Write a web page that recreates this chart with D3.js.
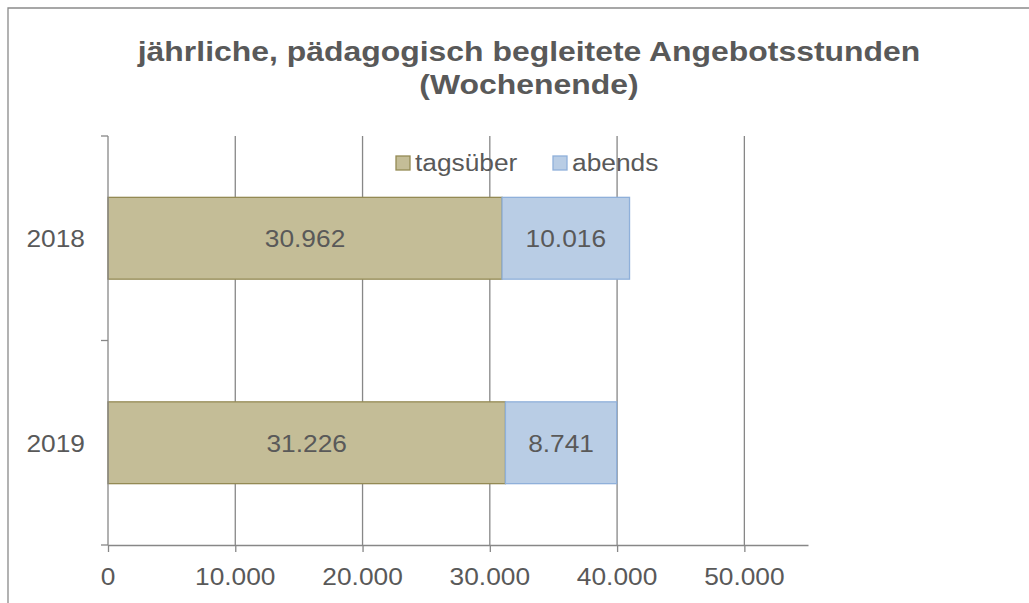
<!DOCTYPE html>
<html>
<head>
<meta charset="utf-8">
<script src="https://cdn.jsdelivr.net/npm/d3@7"></script>
<style>
  html, body { margin: 0; background: #fff; overflow: hidden; }
  svg { display: block; }
  text { font-family: "Liberation Sans", Arial, sans-serif; fill: #595959; }
</style>
</head>
<body>
<div id="root"></div>
<script>
// Data
const years = ["2018", "2019"];
const tagsueber = [30962, 31226];
const abends = [10016, 8741];
const xTicks = [0, 10000, 20000, 30000, 40000, 50000];
const seriesNames = ["tagsüber", "abends"];
const titleLines = ["jährliche, pädagogisch begleitete Angebotsstunden", "(Wochenende)"];

const width = 1029;
const height = 603;
const sx = 1.12; // text in the picture is a bit wider than tall

const de = d3.formatLocale({ decimal: ",", thousands: ".", grouping: [3], currency: ["", " €"] });
const fmt = de.format(",d");

const colors = {
  tagsüber: { fill: "#C4BD97", stroke: "#948A54" },
  abends: { fill: "#B9CDE5", stroke: "#8FB0DA" }
};
const gridColor = "#878787";

const svg = d3.select("#root").append("svg")
  .attr("width", width)
  .attr("height", height);

// chart frame: only the left and top edges are inside the picture
svg.append("path")
  .attr("d", `M8,${height} V8 H${width}`)
  .attr("fill", "none")
  .attr("stroke", "#8a8a8a")
  .attr("stroke-width", 1.3);

function label(g, x, y, str, size, anchor, weight) {
  return g.append("text")
    .attr("transform", `translate(${x},${y}) scale(${sx},1)`)
    .attr("text-anchor", anchor || "middle")
    .attr("font-size", size)
    .attr("font-weight", weight || "normal")
    .text(str);
}

// Title
titleLines.forEach((t, i) => label(svg, 529, 61 + i * 33, t, 28.5, "middle", "bold"));

// Scales
const x = d3.scaleLinear().domain([0, 55000]).range([108, 808]);
const y = d3.scaleBand().domain(years).range([136, 545]).paddingInner(0.6).paddingOuter(0.3);

// Gridlines
svg.append("g")
  .selectAll("line")
  .data(xTicks.slice(1))
  .enter()
  .append("line")
  .attr("x1", (d) => x(d)).attr("x2", (d) => x(d))
  .attr("y1", 136).attr("y2", 545)
  .attr("stroke", gridColor)
  .attr("stroke-width", 1.3);

// Bars
const stacked = years.map((yr, i) => [
  { key: "tagsüber", yr, x0: 0, x1: tagsueber[i], v: tagsueber[i] },
  { key: "abends", yr, x0: tagsueber[i], x1: tagsueber[i] + abends[i], v: abends[i] }
]).flat();

const bars = svg.append("g");
bars.selectAll("rect")
  .data(stacked)
  .enter()
  .append("rect")
  .attr("x", (d) => x(d.x0))
  .attr("y", (d) => y(d.yr))
  .attr("width", (d) => x(d.x1) - x(d.x0))
  .attr("height", y.bandwidth())
  .attr("fill", (d) => colors[d.key].fill)
  .attr("stroke", (d) => colors[d.key].stroke)
  .attr("stroke-width", 1.3);

stacked.forEach((d) => {
  label(bars, (x(d.x0) + x(d.x1)) / 2, y(d.yr) + y.bandwidth() / 2 + 9, fmt(d.v), 23.5);
});

// X axis
const xAxis = d3.axisBottom(x).tickValues(xTicks).tickSize(7).tickSizeOuter(0).tickFormat("");
const xg = svg.append("g").attr("transform", "translate(0,545)").call(xAxis);
xg.selectAll("path, line").attr("stroke", gridColor).attr("stroke-width", 1.3);
xTicks.forEach((t) => label(svg, x(t), 585, fmt(t), 23.5));

// Y axis
const ya = svg.append("g");
ya.append("line")
  .attr("x1", 108).attr("x2", 108)
  .attr("y1", 136).attr("y2", 545)
  .attr("stroke", gridColor).attr("stroke-width", 1.3);
ya.selectAll("line.tick")
  .data(d3.range(years.length + 1))
  .enter()
  .append("line")
  .attr("class", "tick")
  .attr("x1", 101).attr("x2", 108)
  .attr("y1", (i) => 136 + i * y.step())
  .attr("y2", (i) => 136 + i * y.step())
  .attr("stroke", gridColor).attr("stroke-width", 1.3);
years.forEach((yr) => label(svg, 85, y(yr) + y.bandwidth() / 2 + 9, yr, 23.5, "end"));

// Legend
const legendX = [396, 553];
seriesNames.forEach((s, i) => {
  svg.append("rect")
    .attr("x", legendX[i]).attr("y", 156)
    .attr("width", 14).attr("height", 14)
    .attr("fill", colors[s].fill)
    .attr("stroke", colors[s].stroke)
    .attr("stroke-width", 1.3);
  label(svg, legendX[i] + 19, 171, s, 23.5, "start");
});
</script>
</body>
</html>
